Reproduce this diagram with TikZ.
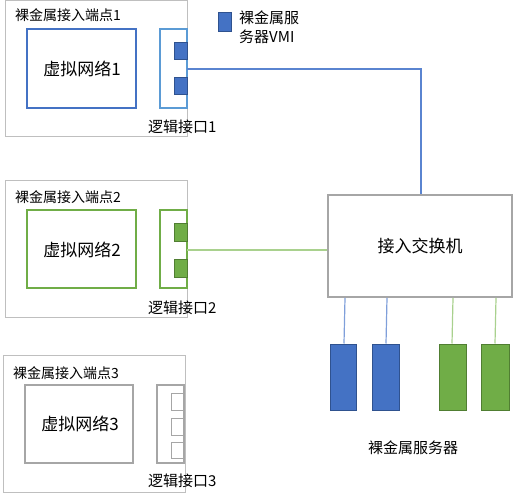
\documentclass[tikz,border=0pt]{standalone}
\usepackage{fontspec}
\setmainfont{Noto Sans CJK SC}
\definecolor{vblue}{HTML}{4472C4}
\definecolor{vbluedk}{HTML}{2F528F}
\definecolor{vbluelt}{HTML}{5B9BD5}
\definecolor{vgreen}{HTML}{70AD47}
\definecolor{vgreendk}{HTML}{507E32}
\definecolor{vgreenlt}{HTML}{A9D18E}
\definecolor{lineblue}{HTML}{7F9FDA}
\definecolor{linetop}{HTML}{5A84D0}
\definecolor{grayA}{HTML}{A6A6A6}
\definecolor{grayB}{HTML}{BFBFBF}
\begin{document}
\begin{tikzpicture}[x=1pt,y=-1pt,
  outer/.style={draw=grayB,line width=1pt},
  vnet/.style={line width=1.3pt},
  iface/.style={line width=1.3pt},
  port/.style={line width=1pt},
  lbl/.style={inner sep=0pt,anchor=west,font=\fontsize{14}{14}\selectfont},
  big/.style={inner sep=0pt,font=\fontsize{17}{17}\selectfont},
  mid/.style={inner sep=0pt,font=\fontsize{15}{15}\selectfont},
  conn/.style={line width=1.2pt}]
\useasboundingbox (0,0) rectangle (513,500);
% endpoint 1
\draw[outer] (5,1) rectangle (187,136);
\node[lbl] (l1) at (15,15) {裸金属接入端点1};
\draw[vnet,draw=vblue] (27,29) rectangle (136,108);
\node[big] (vn1) at (82,69) {虚拟网络1};
\draw[iface,draw=vbluelt] (160,29) rectangle (187,108);
\draw[port,draw=vbluedk,fill=vblue] (174,43) rectangle (187,60);
\draw[port,draw=vbluedk,fill=vblue] (174,78) rectangle (187,95);
\coordinate (if1) at (187,69);
\node[mid,anchor=west] (il1) at (148,127) {逻辑接口1};
% legend
\draw[port,draw=vbluedk,fill=vblue] (218,13) rectangle (231,32);
\node[mid,anchor=north west,align=left,font=\fontsize{15}{19}\selectfont] (leg) at (239,11) {裸金属服\\务器VMI};
% endpoint 2
\draw[outer] (5,180) rectangle (187,317);
\node[lbl] (l2) at (15,197) {裸金属接入端点2};
\draw[vnet,draw=vgreen] (27,210) rectangle (136,288);
\node[big] (vn2) at (82,250) {虚拟网络2};
\draw[iface,draw=vgreen] (160,210) rectangle (187,288);
\draw[port,draw=vgreendk,fill=vgreen] (174,223) rectangle (187,241);
\draw[port,draw=vgreendk,fill=vgreen] (174,259) rectangle (187,277);
\coordinate (if2) at (187,250);
\node[mid,anchor=west] (il2) at (148,308) {逻辑接口2};
% endpoint 3
\draw[outer] (3,355) rectangle (185,492);
\node[lbl] (l3) at (13,373) {裸金属接入端点3};
\draw[vnet,draw=grayA] (25,385) rectangle (133,463);
\node[big] (vn3) at (80,424) {虚拟网络3};
\draw[iface,draw=grayA] (157,385) rectangle (184,463);
\draw[port,draw=grayA,fill=white] (171,393) rectangle (183,410);
\draw[port,draw=grayA,fill=white] (171,418) rectangle (183,435);
\draw[port,draw=grayA,fill=white] (171,442) rectangle (183,458);
\node[mid,anchor=west] (il3) at (148,481) {逻辑接口3};
% switch
\node[draw=grayA,line width=1.6pt,minimum width=184pt,minimum height=102pt,inner sep=0pt,font=\fontsize{17}{17}\selectfont] (sw) at (420,246) {接入交换机};
% servers
\node[draw=vbluedk,fill=vblue,line width=1pt,minimum width=26pt,minimum height=66pt,inner sep=0pt] (s1) at (343,377) {};
\node[draw=vbluedk,fill=vblue,line width=1pt,minimum width=27pt,minimum height=66pt,inner sep=0pt] (s2) at (385.5,377) {};
\node[draw=vgreendk,fill=vgreen,line width=1pt,minimum width=27pt,minimum height=66pt,inner sep=0pt] (s3) at (452.5,377) {};
\node[draw=vgreendk,fill=vgreen,line width=1pt,minimum width=28pt,minimum height=66pt,inner sep=0pt] (s4) at (495,377) {};
\node[mid] (srv) at (413,448) {裸金属服务器};
% connectors
\draw[conn,draw=linetop] (if1) -| (sw.north -| 421,0);
\draw[conn,draw=vgreenlt] (if2) -- (sw.west |- if2);
\draw[conn,draw=lineblue] (sw.south -| 345,0) -- (s1.north -| 344,0);
\draw[conn,draw=lineblue] (sw.south -| 387,0) -- (s2.north -| 386,0);
\draw[conn,draw=vgreenlt] (sw.south -| 453,0) -- (s3.north -| 452,0);
\draw[conn,draw=vgreenlt] (sw.south -| 496,0) -- (s4.north -| 495,0);
\end{tikzpicture}
\end{document}
